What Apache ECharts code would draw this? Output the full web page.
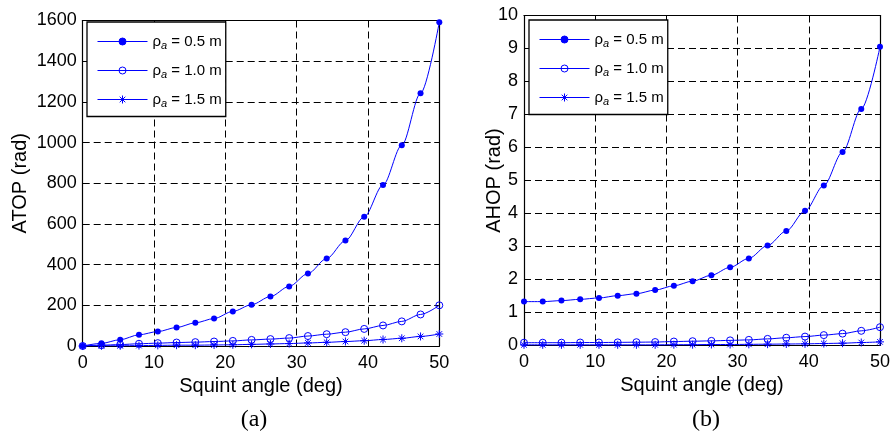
<!DOCTYPE html>
<html>
<head>
<meta charset="utf-8">
<script src="https://cdn.jsdelivr.net/npm/echarts@6/dist/echarts.min.js"></script>
<style>
  html, body { margin: 0; padding: 0; background: #fff; }
  #main { width: 893px; height: 431px; }
</style>
</head>
<body>
<div id="main"></div>
<script>
// Squint angle samples (deg)
const angles = [0, 2.63, 5.26, 7.89, 10.53, 13.16, 15.79, 18.42, 21.05, 23.68,
                26.32, 28.95, 31.58, 34.21, 36.84, 39.47, 42.11, 44.74, 47.37, 50];

// (a) ATOP (rad) for each azimuth resolution
const atop05 = [0, 13, 31, 55, 71, 91, 114, 135, 170, 203, 243, 293, 356, 430, 518, 635, 791, 987, 1242, 1592];
const atop10 = [0, 4, 7, 11, 14, 17, 19, 22, 25, 30, 34, 39, 49, 58, 68, 84, 101, 121, 155, 200];
const atop15 = [0, 1, 1, 2, 3, 4, 4, 5, 6, 8, 10, 12, 15, 18, 22, 26, 32, 38, 47, 59];

// (b) AHOP (rad) for each azimuth resolution
const ahop05 = [1.33, 1.33, 1.36, 1.40, 1.44, 1.51, 1.57, 1.68, 1.81, 1.95, 2.13, 2.37, 2.64, 3.03, 3.47, 4.08, 4.85, 5.86, 7.17, 9.05];
const ahop10 = [0.085, 0.085, 0.085, 0.09, 0.09, 0.095, 0.10, 0.105, 0.12, 0.13, 0.14, 0.155, 0.17, 0.20, 0.235, 0.27, 0.315, 0.36, 0.445, 0.555];
const ahop15 = [0.02, 0.02, 0.02, 0.02, 0.02, 0.02, 0.02, 0.02, 0.025, 0.025, 0.03, 0.03, 0.035, 0.04, 0.045, 0.05, 0.06, 0.07, 0.09, 0.11];

// Tick values
const xTicks = [0, 10, 20, 30, 40, 50];
const atopTicks = [0, 200, 400, 600, 800, 1000, 1200, 1400, 1600];
const ahopTicks = [0, 1, 2, 3, 4, 5, 6, 7, 8, 9, 10];

const seriesNames = ['ρa = 0.5 m', 'ρa = 1.0 m', 'ρa = 1.5 m'];
const panelTitles = ['(a)', '(b)'];
const yNames = ['ATOP (rad)', 'AHOP (rad)'];
const xName = 'Squint angle (deg)';

const SANS = '"Liberation Sans", Arial, Helvetica, sans-serif';
const SERIF = '"Liberation Serif", "Times New Roman", serif';
const BLUE = '#0000ff';
// MATLAB-like markers: asterisk and hollow circle drawn as stroked paths
const ASTERISK = 'path://M5,0L5,10M0,5L10,5M1.5,1.5L8.5,8.5M1.5,8.5L8.5,1.5';
const RING = 'path://M10,5A5,5,0,1,1,0,5A5,5,0,1,1,10,5Z';

// Legend keys: a line sample with the marker in its middle (50 x 8 box)
const KEY_DOT = 'path://M0,4L50,4M28.5,4A3.5,3.5,0,1,1,21.5,4A3.5,3.5,0,1,1,28.5,4Z';
const KEY_STAR = 'path://M0,4L50,4M25,0L25,8M21,4L29,4M22.2,1.2L27.8,6.8M22.2,6.8L27.8,1.2';

const grids = [
  { left: 82.7, top: 20.5, width: 356.6, height: 325.5 },
  { left: 524, top: 15.5, width: 357, height: 330 }
];

function pairs(ys) { return angles.map((x, i) => [x, ys[i]]); }

function range(ticks) {
  return { min: ticks[0], max: ticks[ticks.length - 1], interval: ticks[1] - ticks[0] };
}

const labelStyle = { color: '#000', fontFamily: SANS, fontSize: 18, formatter: v => String(v) };
const dash = { color: '#000', type: [7, 4], width: 1 };

function xAxisFor(g, top) {
  return Object.assign({
    type: 'value', gridIndex: g, position: top ? 'top' : 'bottom',
    name: top ? '' : xName, nameLocation: 'middle', nameGap: 30, nameMoveOverlap: false,
    nameTextStyle: { color: '#000', fontFamily: SANS, fontSize: 20 },
    axisLine: { show: true, onZero: false, lineStyle: { color: '#000', width: 1.2 } },
    axisTick: { show: true, inside: true, length: 5, lineStyle: { color: '#000' } },
    axisLabel: Object.assign({ show: !top, margin: 8 }, labelStyle),
    splitLine: { show: !top, lineStyle: dash }
  }, range(xTicks));
}

function yAxisFor(g, ticks, right, gap) {
  return Object.assign({
    type: 'value', gridIndex: g, position: right ? 'right' : 'left',
    name: right ? '' : yNames[g], nameLocation: 'middle', nameGap: gap, nameMoveOverlap: false,
    nameTextStyle: { color: '#000', fontFamily: SANS, fontSize: 20 },
    axisLine: { show: true, onZero: false, lineStyle: { color: '#000', width: 1.2 } },
    axisTick: { show: true, inside: true, length: 5, lineStyle: { color: '#000' } },
    axisLabel: Object.assign({ show: !right, margin: 6 }, labelStyle),
    splitLine: { show: !right, lineStyle: dash }
  }, range(ticks));
}

const markerStyles = [
  { symbol: 'circle', symbolSize: 6, itemStyle: { color: BLUE } },
  { symbol: RING, symbolSize: 7, itemStyle: { color: 'rgba(255,255,255,0)', borderColor: BLUE, borderWidth: 1 } },
  { symbol: ASTERISK, symbolSize: 8, itemStyle: { color: BLUE, borderColor: BLUE, borderWidth: 1 } }
];

const legendKeys = [
  { icon: KEY_DOT, itemStyle: { color: BLUE, borderColor: BLUE, borderWidth: 1 } },
  { icon: KEY_DOT, itemStyle: { color: '#fff', borderColor: BLUE, borderWidth: 1 } },
  { icon: KEY_STAR, itemStyle: { color: BLUE, borderColor: BLUE, borderWidth: 1 } }
];

function makeSeries(g, values) {
  return values.map((v, i) => Object.assign({
    type: 'line', name: seriesNames[i],
    xAxisIndex: g, yAxisIndex: g,
    data: pairs(v),
    smooth: 0.3, smoothMonotone: 'x',
    showAllSymbol: true,
    lineStyle: { color: BLUE, width: 1 },
    emphasis: { disabled: true },
    z: 3 + i
  }, markerStyles[i]));
}

function legendFor(left, top) {
  return {
    orient: 'vertical', left: left, top: top,
    data: seriesNames.map((n, i) => Object.assign({ name: n }, legendKeys[i])),
    itemWidth: 50, itemHeight: 8, itemGap: 11.5,
    symbolKeepAspect: true,
    padding: [12, 4, 7, 10],
    backgroundColor: '#fff',
    borderColor: '#000', borderWidth: 1.3,
    selectedMode: false,
    formatter: n => '{r|ρ}{s|a}{t|' + n.slice(2) + '}',
    textStyle: {
      color: '#000',
      rich: {
        r: { fontFamily: SANS, fontSize: 15, lineHeight: 20, color: '#000' },
        s: { fontFamily: SANS, fontSize: 11, fontStyle: 'italic', lineHeight: 10, verticalAlign: 'bottom', color: '#000' },
        t: { fontFamily: SANS, fontSize: 15, lineHeight: 20, color: '#000' }
      }
    }
  };
}

const chart = echarts.init(document.getElementById('main'), null, { renderer: 'canvas' });
chart.setOption({
  animation: false,
  backgroundColor: '#fff',
  title: [
    { text: panelTitles[0], left: 249, top: 403, textAlign: 'center',
      textStyle: { fontFamily: SERIF, fontSize: 24, fontWeight: 'normal', color: '#000' } },
    { text: panelTitles[1], left: 701, top: 403, textAlign: 'center',
      textStyle: { fontFamily: SERIF, fontSize: 24, fontWeight: 'normal', color: '#000' } }
  ],
  legend: [legendFor(87, 22), legendFor(529, 20)],
  grid: grids.map(g => Object.assign({ containLabel: false }, g)),
  xAxis: [xAxisFor(0, false), xAxisFor(1, false), xAxisFor(0, true), xAxisFor(1, true)],
  yAxis: [
    yAxisFor(0, atopTicks, false, 52),
    yAxisFor(1, ahopTicks, false, 20),
    yAxisFor(0, atopTicks, true, 0),
    yAxisFor(1, ahopTicks, true, 0)
  ],
  series: [].concat(
    makeSeries(0, [atop05, atop10, atop15]),
    makeSeries(1, [ahop05, ahop10, ahop15])
  )
});
</script>
</body>
</html>
